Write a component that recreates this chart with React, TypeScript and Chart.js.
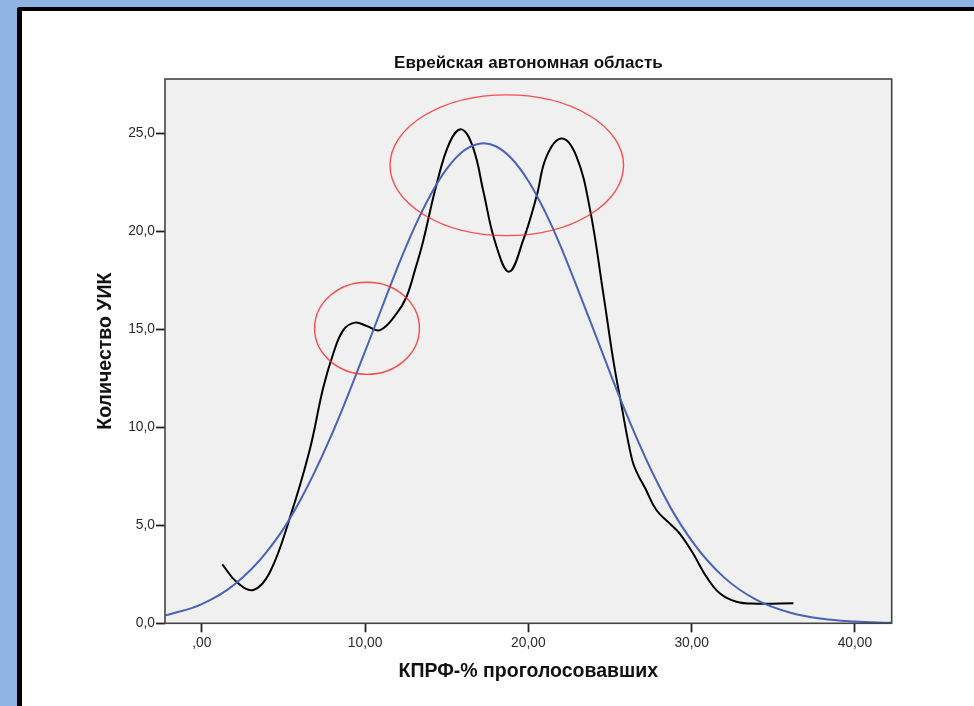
import React, { useEffect, useRef } from "react";
import { Chart, registerables } from "chart.js";

Chart.register(...registerables);

const chartTitle = "Еврейская автономная область";
const xAxisTitle = "КПРФ-% проголосовавших";
const yAxisTitle = "Количество УИК";

const xTickValues = [0, 10, 20, 30, 40];
const xTickLabels = [",00", "10,00", "20,00", "30,00", "40,00"];
const yTickValues = [0, 5, 10, 15, 20, 25];
const yTickLabels = ["0,0", "5,0", "10,0", "15,0", "20,0", "25,0"];

// black smoothed curve
const kdeX = [1.26, 2.12, 3.16, 4.18, 5.41, 6.61, 7.43, 8.06, 8.67, 9.38, 10.1, 10.92, 11.93, 12.54, 13.06, 13.55, 14.37, 15.2, 15.92, 16.63, 17.25, 17.96, 18.82, 19.69, 20.5, 21.11, 22.04, 22.95, 23.78, 24.59, 25.2, 25.66, 26.35, 26.7, 27.15, 27.84, 28.65, 29.26, 30.08, 30.9, 31.72, 32.74, 34.0, 36.23];
const kdeY = [3.01, 2.12, 1.7, 2.62, 5.42, 8.84, 11.99, 13.78, 14.96, 15.34, 15.17, 14.96, 15.8, 16.66, 18.03, 19.47, 22.36, 24.57, 25.2, 24.23, 22.02, 19.47, 17.94, 19.56, 21.77, 23.81, 24.73, 23.81, 21.09, 16.82, 13.43, 11.31, 8.35, 7.6, 6.9, 5.78, 5.1, 4.59, 3.57, 2.38, 1.53, 1.1, 1.0, 1.02];

// blue fitted normal curve
const normX = [-2.25, -2, 0, 2, 4, 6, 8, 10, 12, 13, 14, 15, 16, 17, 18, 19, 20, 21, 22, 24, 26, 28, 30, 32, 34, 36, 38, 40, 42, 42.25];
const normY = [0.4, 0.45, 0.98, 1.98, 3.67, 6.23, 9.71, 13.87, 18.18, 20.15, 21.84, 23.18, 24.08, 24.47, 24.34, 23.69, 22.57, 21.04, 19.19, 14.96, 10.7, 7.02, 4.22, 2.33, 1.18, 0.55, 0.23, 0.09, 0.03, 0.03];

// red highlight ellipses (data units)
const ellipseCX = [10.12, 18.68];
const ellipseCY = [15.05, 23.37];
const ellipseRX = [3.21, 7.15];
const ellipseRY = [2.35, 3.59];

const X_MIN = -2.25;
const X_MAX = 42.25;
const Y_MIN = 0;
const Y_MAX = 27.77;

const FONT = "'Liberation Sans', Arial, sans-serif";

const framePlugin = {
  id: "framePlugin",
  beforeDatasetsDraw(chart: any) {
    const { ctx, chartArea } = chart;
    ctx.save();
    ctx.fillStyle = "#f0f0f0";
    ctx.fillRect(chartArea.left, chartArea.top, chartArea.right - chartArea.left, chartArea.bottom - chartArea.top);
    ctx.restore();
  },
  afterDatasetsDraw(chart: any) {
    const { ctx, chartArea, scales } = chart;
    ctx.save();
    ctx.strokeStyle = "rgba(255,45,45,0.85)";
    ctx.lineWidth = 1.4;
    for (let i = 0; i < ellipseCX.length; i++) {
      const cx = scales.x.getPixelForValue(ellipseCX[i]);
      const cy = scales.y.getPixelForValue(ellipseCY[i]);
      const rx = Math.abs(scales.x.getPixelForValue(ellipseCX[i] + ellipseRX[i]) - cx);
      const ry = Math.abs(scales.y.getPixelForValue(ellipseCY[i] + ellipseRY[i]) - cy);
      ctx.beginPath();
      ctx.ellipse(cx, cy, rx, ry, 0, 0, Math.PI * 2);
      ctx.stroke();
    }
    ctx.strokeStyle = "#444";
    ctx.lineWidth = 1.6;
    ctx.strokeRect(chartArea.left, chartArea.top, chartArea.right - chartArea.left, chartArea.bottom - chartArea.top);
    ctx.restore();
  },
};

export default function App() {
  const canvasRef = useRef<HTMLCanvasElement | null>(null);

  useEffect(() => {
    if (!canvasRef.current) return;
    const kde = kdeX.map((x, i) => ({ x, y: kdeY[i] }));
    const norm = normX.map((x, i) => ({ x, y: normY[i] }));
    const chart = new Chart(canvasRef.current, {
      type: "line",
      data: {
        datasets: [
          {
            data: norm,
            borderColor: "#4a62b8",
            borderWidth: 2,
            pointRadius: 0,
            tension: 0.4,
            fill: false,
          },
          {
            data: kde,
            borderColor: "#000000",
            borderWidth: 2,
            pointRadius: 0,
            tension: 0.4,
            fill: false,
          },
        ],
      },
      options: {
        animation: false,
        responsive: false,
        devicePixelRatio: 1,
        layout: { padding: { left: 0, right: 82.3, top: 0, bottom: 0 } },
        plugins: {
          legend: { display: false },
          tooltip: { enabled: false },
          title: {
            display: true,
            text: chartTitle,
            fullSize: false,
            color: "#111",
            font: { family: FONT, size: 17, weight: "bold" },
            padding: { top: 52.8, bottom: 5.8 },
          },
        },
        scales: {
          x: {
            type: "linear",
            min: X_MIN,
            max: X_MAX,
            afterBuildTicks: (scale: any) => {
              scale.ticks = xTickValues.map((v) => ({ value: v }));
            },
            afterFit: (scale: any) => {
              scale.height = 82.7;
            },
            border: { display: false },
            grid: {
              drawOnChartArea: false,
              drawTicks: true,
              tickLength: 9,
              tickWidth: 1.8,
              tickColor: "#222",
            },
            ticks: {
              color: "#2a2a2a",
              padding: 3,
              maxRotation: 0,
              font: { family: FONT, size: 13.8 },
              callback: (v: any) => {
                const idx = xTickValues.indexOf(Number(v));
                return idx >= 0 ? xTickLabels[idx] : "";
              },
            },
            title: {
              display: true,
              text: xAxisTitle,
              color: "#111",
              font: { family: FONT, size: 19.5, weight: "bold" },
              padding: { top: 0, bottom: 22.3 },
            },
          },
          y: {
            type: "linear",
            min: Y_MIN,
            max: Y_MAX,
            afterBuildTicks: (scale: any) => {
              scale.ticks = yTickValues.map((v) => ({ value: v }));
            },
            afterFit: (scale: any) => {
              scale.width = 165;
            },
            border: { display: false },
            grid: {
              drawOnChartArea: false,
              drawTicks: true,
              tickLength: 9,
              tickWidth: 1.8,
              tickColor: "#222",
            },
            ticks: {
              color: "#2a2a2a",
              padding: 1,
              font: { family: FONT, size: 13.8 },
              callback: (v: any) => {
                const idx = yTickValues.indexOf(Number(v));
                return idx >= 0 ? yTickLabels[idx] : "";
              },
            },
            title: {
              display: true,
              text: yAxisTitle,
              color: "#111",
              font: { family: FONT, size: 19.5, weight: "bold" },
              padding: { top: 94.3, bottom: 0 },
            },
          },
        },
      },
      plugins: [framePlugin],
    } as any);
    return () => chart.destroy();
  }, []);

  return (
    <div style={{ position: "fixed", left: 0, top: 0, width: 974, height: 706, background: "#8eb4e3", overflow: "hidden" }}>
      <div
        style={{
          position: "absolute",
          left: 17,
          top: 7,
          right: -10,
          bottom: -10,
          background: "#ffffff",
          borderLeft: "5px solid #000",
          borderTop: "4px solid #000",
          borderTopLeftRadius: 3,
        }}
      />
      <canvas ref={canvasRef} width={974} height={706} style={{ position: "absolute", left: 0, top: 0, display: "block" }} />
    </div>
  );
}
